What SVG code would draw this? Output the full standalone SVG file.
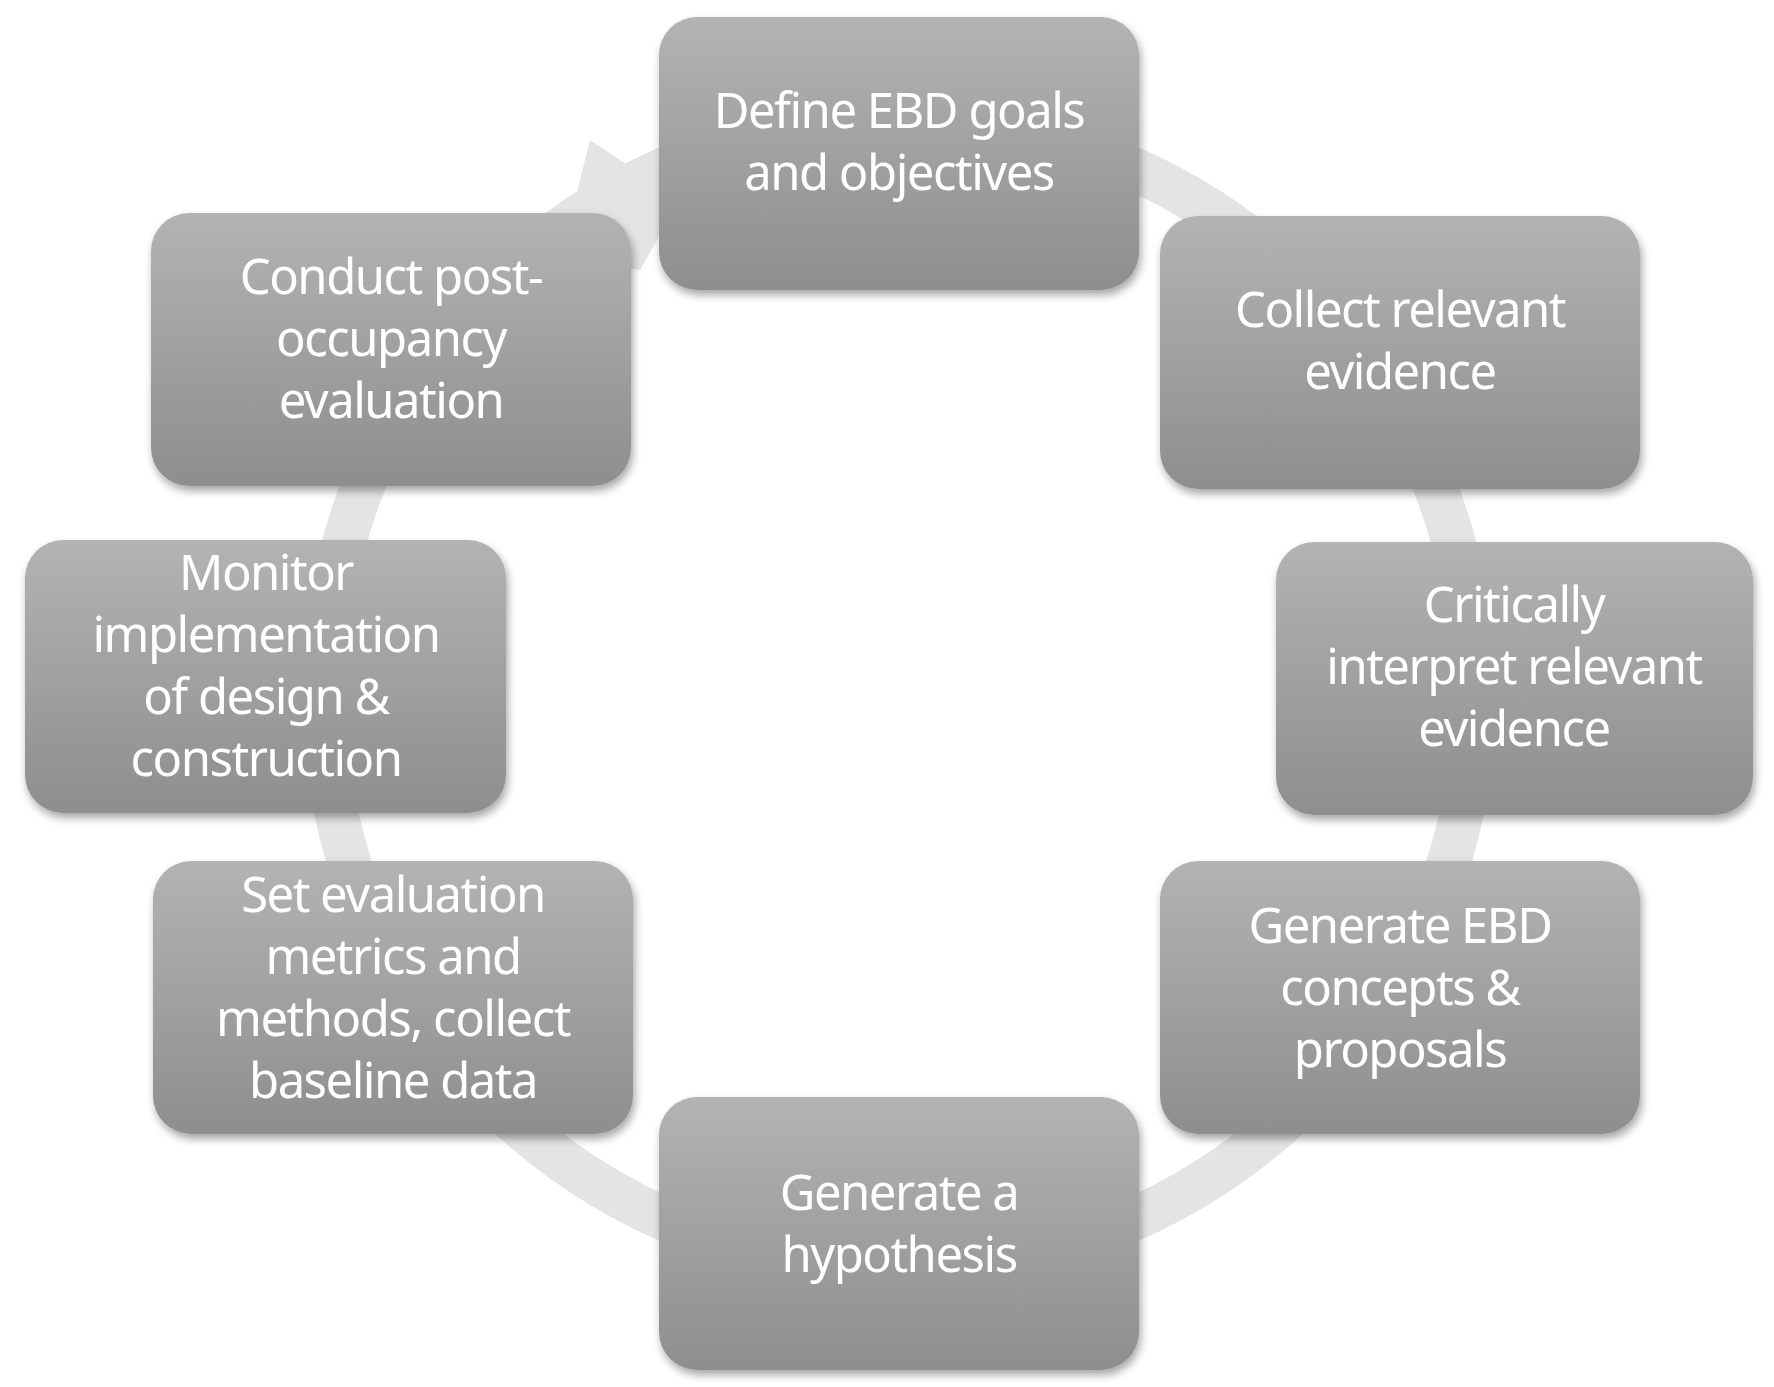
<svg xmlns="http://www.w3.org/2000/svg" width="1774" height="1387" viewBox="0 0 1774 1387">
<defs>
<linearGradient id="g" x1="0" y1="0" x2="0" y2="1"><stop offset="0" stop-color="#b3b3b3"/><stop offset="1" stop-color="#8e8e8e"/></linearGradient>
<filter id="sh" x="-10%" y="-10%" width="125%" height="130%"><feDropShadow dx="2" dy="5" stdDeviation="4" flood-color="#000" flood-opacity="0.35"/></filter>
</defs>
<style>
.b{fill:url(#g);filter:url(#sh)}
.t{font-family:"Noto Sans","Open Sans",sans-serif;font-size:49px;fill:#fff;text-anchor:middle;letter-spacing:-1.5px}
</style>
<rect width="1774" height="1387" fill="#fff"/>
<g id="connectors">
<circle cx="899" cy="694" r="575" fill="none" stroke="#e4e4e4" stroke-width="44"/>
<polygon points="590,140 680,200 640,270 560,260" fill="#e4e4e4"/>
</g>
<g id="n1"><rect class="b" x="659" y="17" width="480" height="273" rx="38"/><text class="t" x="899" y="128">Define EBD goals</text><text class="t" x="899" y="190">and objectives</text></g>
<g id="n2"><rect class="b" x="1160" y="216" width="480" height="273" rx="38"/><text class="t" x="1400" y="327">Collect relevant</text><text class="t" x="1400" y="389">evidence</text></g>
<g id="n3"><rect class="b" x="1276" y="542" width="477" height="273" rx="38"/><text class="t" x="1514" y="622">Critically</text><text class="t" x="1514" y="684">interpret relevant</text><text class="t" x="1514" y="746">evidence</text></g>
<g id="n4"><rect class="b" x="1160" y="861" width="480" height="273" rx="38"/><text class="t" x="1400" y="943">Generate EBD</text><text class="t" x="1400" y="1005">concepts &amp;</text><text class="t" x="1400" y="1067">proposals</text></g>
<g id="n5"><rect class="b" x="659" y="1097" width="480" height="273" rx="38"/><text class="t" x="899" y="1210">Generate a</text><text class="t" x="899" y="1272">hypothesis</text></g>
<g id="n6"><rect class="b" x="153" y="861" width="480" height="273" rx="38"/><text class="t" x="393" y="912">Set evaluation</text><text class="t" x="393" y="974">metrics and</text><text class="t" x="393" y="1036">methods, collect</text><text class="t" x="393" y="1098">baseline data</text></g>
<g id="n7"><rect class="b" x="25" y="540" width="481" height="273" rx="38"/><text class="t" x="266" y="590">Monitor</text><text class="t" x="266" y="652">implementation</text><text class="t" x="266" y="714">of design &amp;</text><text class="t" x="266" y="776">construction</text></g>
<g id="n8"><rect class="b" x="151" y="213" width="480" height="273" rx="38"/><text class="t" x="391" y="294">Conduct post-</text><text class="t" x="391" y="356">occupancy</text><text class="t" x="391" y="418">evaluation</text></g>
</svg>
